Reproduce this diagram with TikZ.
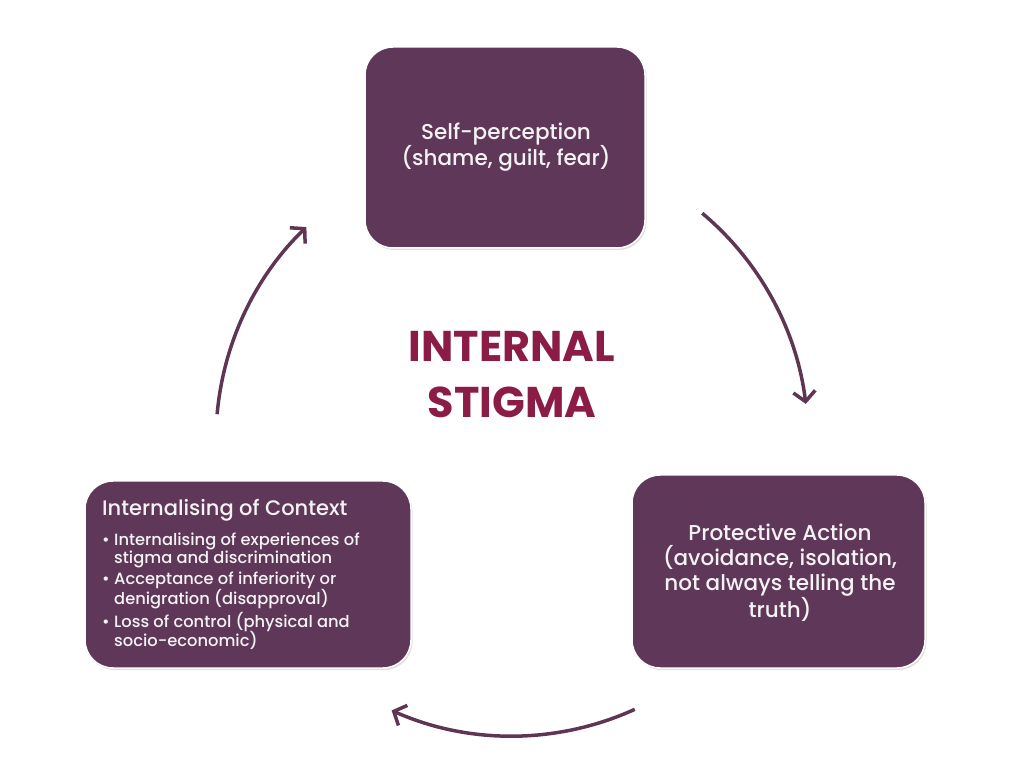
\documentclass[tikz,border=0pt]{standalone}
\usepackage{fontspec}
\setmainfont{Poppins}[UprightFont=* Medium, BoldFont=* Bold]
\usetikzlibrary{arrows.meta,shadows,calc}
\definecolor{boxfill}{RGB}{95,55,88}
\definecolor{titlecol}{RGB}{138,28,69}
\definecolor{arrowcol}{RGB}{94,54,84}
\definecolor{txt}{RGB}{245,242,245}
\tikzset{
  stagebox/.style={draw=white, line width=1.5pt, fill=boxfill, rounded corners=28pt,
    drop shadow={opacity=0.25, shadow xshift=1.5pt, shadow yshift=-2pt}},
  boxtext/.style={text=txt, align=center, font=\fontsize{21.5}{25}\selectfont},
  cyclearrow/.style={draw=arrowcol, line width=3.5pt,
    -{Straight Barb[length=10pt,width=22pt]}}
}
\begin{document}
\begin{tikzpicture}[x=1pt,y=1pt]
\useasboundingbox (0,0) rectangle (1024,768);
% boxes
\path[stagebox] (365,520) rectangle (645,721);
\path[stagebox] (85,100) rectangle (411,287);
\path[stagebox] (632,100) rectangle (925,293);
% box texts
\node[boxtext] (self) at (506,621) {Self-perception\\(shame, guilt, fear)};
\node[boxtext] (prot) at (780,195) {Protective Action\\(avoidance, isolation,\\not always telling the\\truth)};
\node[text=txt, align=left, anchor=north west, inner sep=0pt,
      font=\fontsize{16.3}{17.8}\selectfont] (ctx) at (102,269)
 {{\fontsize{21}{24}\selectfont Internalising of Context}\\[11pt]
  \makebox[12pt][l]{•}Internalising of experiences of\\
  \hspace*{12pt}stigma and discrimination\\[3pt]
  \makebox[12pt][l]{•}Acceptance of inferiority or\\
  \hspace*{12pt}denigration (disapproval)\\[2pt]
  \makebox[12pt][l]{•}Loss of control (physical and\\[-1pt]
  \hspace*{12pt}socio-economic)};
% centre title
\node[text=titlecol, align=center, font=\bfseries\fontsize{43}{56}\selectfont] (title) at (512,393) {INTERNAL\\STIGMA};
% arrows on a circle centred at (512,328)
\coordinate (ctr) at (512,328);
\coordinate (a1) at ($(ctr)+(50:296pt)$);
\coordinate (a2) at ($(ctr)+(-65.5:296pt)$);
\coordinate (a3) at ($(ctr)+(175:296pt)$);
\draw[cyclearrow] (a1) arc[start angle=50, end angle=7, radius=296pt];
\draw[cyclearrow] (a2) arc[start angle=-65.5, end angle=-114, radius=296pt];
\draw[cyclearrow] (a3) arc[start angle=175, end angle=134, radius=296pt];
\end{tikzpicture}
\end{document}
